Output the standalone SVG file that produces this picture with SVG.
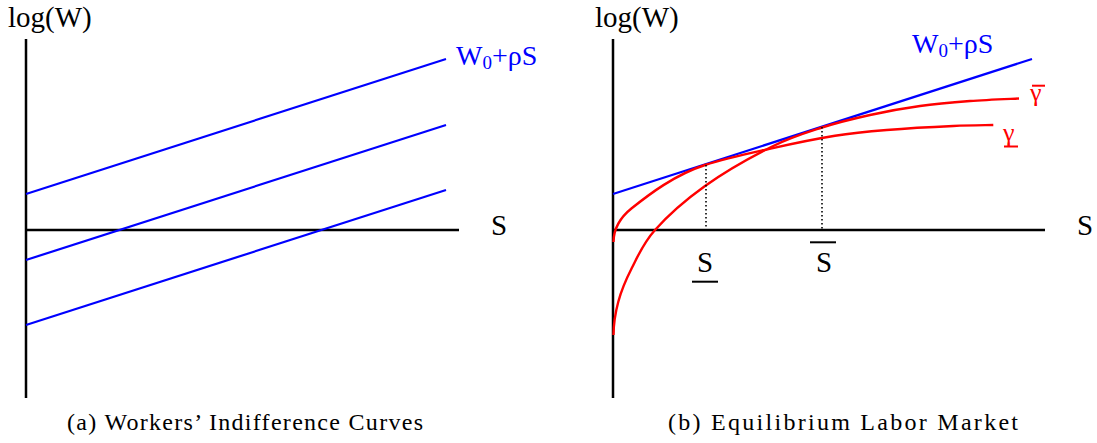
<svg xmlns="http://www.w3.org/2000/svg" width="1097" height="443" viewBox="0 0 1097 443" font-family="'Liberation Serif', 'Times New Roman', serif">
<style>
.axis{stroke:#000;stroke-width:2.5;fill:none}
.blue{stroke:#0000ff;stroke-width:2.2;fill:none}
.red{stroke:#ff0000;stroke-width:2.4;fill:none}
.dot{stroke:#000;stroke-width:1.6;stroke-dasharray:1.6 2.4;fill:none}
.bar{stroke:#000;stroke-width:2;fill:none}
.rbar{stroke:#ff0000;stroke-width:2;fill:none}
text{font-family:'Liberation Serif','Times New Roman',serif}
.lbl{font-size:29px;fill:#000}
.bl{font-size:28px;fill:#0000ff}
.rd{font-size:26px;fill:#ff0000}
.cap{font-size:24px;fill:#000}
</style>
<g id="panel-a">
  <g id="a-axes">
    <line class="axis" x1="26" y1="39" x2="26" y2="398"/>
    <line class="axis" x1="26" y1="230" x2="459" y2="230"/>
    <text class="lbl" x="8" y="27">log(W)</text>
    <text class="lbl" x="491" y="235">S</text>
  </g>
  <g id="a-lines">
    <line class="blue" x1="26" y1="194" x2="446" y2="59"/>
    <line class="blue" x1="26" y1="260" x2="446" y2="125"/>
    <line class="blue" x1="26" y1="325" x2="446" y2="190"/>
    <text class="bl" x="456" y="65">W<tspan font-size="19" dy="4">0</tspan><tspan dy="-4">+ρS</tspan></text>
  </g>
  <text id="caption-a" class="cap" x="67" y="430" textLength="356" lengthAdjust="spacing">(a) Workers’ Indifference Curves</text>
</g>
<g id="panel-b">
  <g id="b-axes">
    <line class="axis" x1="613" y1="39" x2="613" y2="398"/>
    <line class="axis" x1="613" y1="230" x2="1045" y2="230"/>
    <text class="lbl" x="595" y="27">log(W)</text>
    <text class="lbl" x="1077" y="235">S</text>
  </g>
  <g id="b-wage-line">
    <line class="blue" x1="613" y1="194" x2="1032" y2="59"/>
    <text class="bl" x="912" y="53">W<tspan font-size="19" dy="4">0</tspan><tspan dy="-4">+ρS</tspan></text>
  </g>
  <g id="b-gamma-low">
    <path class="red" d="M613.5,242 C613.6,230 619.7,217.9 631.7,208.3 C649.7,193.9 675,174.7 705,165 C727,157.9 750,153.2 771.7,148.3 C793.4,143.4 815.8,138.8 835,135.7 C854.2,132.7 867,131.6 886.7,130 C906.4,128.4 935.5,126.8 953.3,126 C971.1,125.2 986.6,125.2 993.3,125"/>
    <text class="rd" x="1003" y="141">γ</text>
    <line class="rbar" x1="1004" y1="146.5" x2="1018" y2="146.5"/>
  </g>
  <g id="b-gamma-high">
    <path class="red" d="M613.5,335 C613.6,322 615.3,312.8 618.3,301.7 C621.3,290.6 625.6,280.3 631.7,268.3 C637.8,256.4 642.8,243.7 655,230 C667.2,216.3 685.6,199.9 705,186 C724.5,172.1 752.2,156.5 771.7,146.7 C791.2,137 805.6,132.8 822,127.5 C838,122.4 853.7,118.6 870,115 C886.3,111.4 903.3,108.3 920,106 C936.7,103.7 953.5,102.3 970,101 C986.5,99.8 1010.8,98.9 1019,98.5"/>
    <text class="rd" x="1030" y="101">γ</text>
    <line class="rbar" x1="1032" y1="85.7" x2="1045" y2="85.7"/>
  </g>
  <g id="b-markers">
    <line class="dot" x1="706" y1="165" x2="706" y2="230"/>
    <line class="dot" x1="822" y1="127" x2="822" y2="230"/>
    <text class="lbl" x="697" y="272" font-size="28">S</text>
    <line class="bar" x1="692" y1="281.7" x2="718" y2="281.7"/>
    <text class="lbl" x="816" y="272" font-size="28">S</text>
    <line class="bar" x1="810" y1="242.3" x2="836" y2="242.3"/>
  </g>
  <text id="caption-b" class="cap" x="668" y="430" textLength="350" lengthAdjust="spacing">(b) Equilibrium Labor Market</text>
</g>
</svg>
